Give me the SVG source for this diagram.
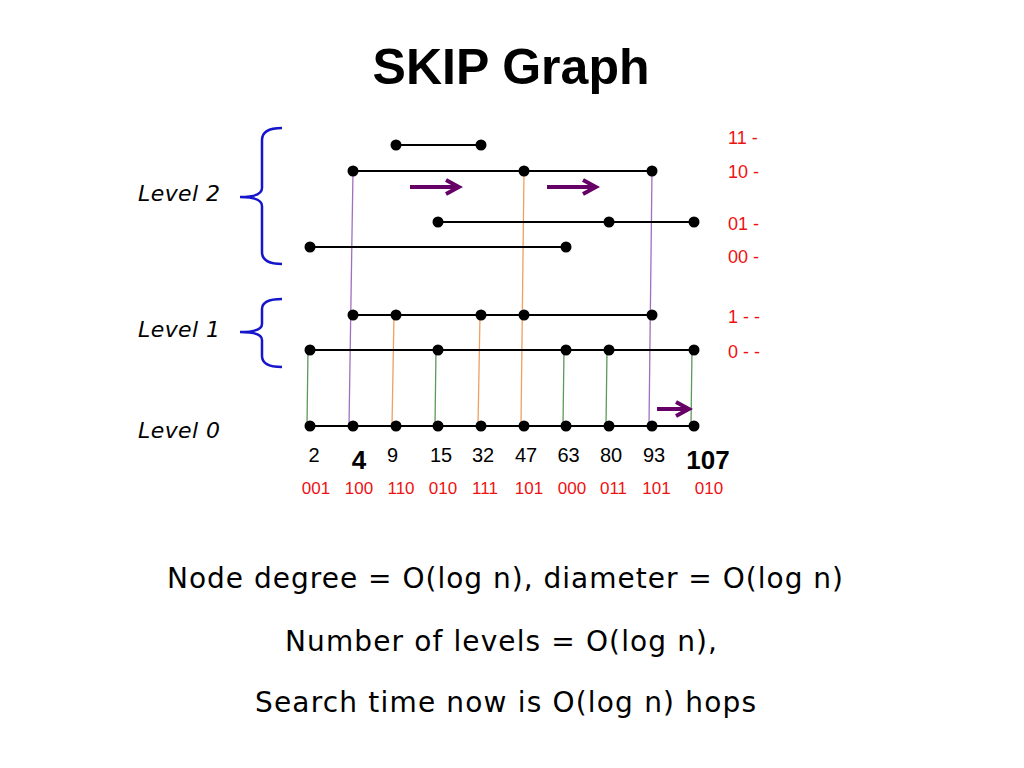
<svg xmlns="http://www.w3.org/2000/svg" width="1024" height="768" viewBox="0 0 1024 768">
<style>
.title{font-family:"Liberation Sans",Arial,sans-serif;font-weight:bold;font-size:50px;fill:#000}
.lvl{font-family:"DejaVu Sans",sans-serif;font-style:italic;font-size:22px;fill:#000}
.code{font-family:"Liberation Sans",Arial,sans-serif;font-size:17px;fill:#ee1111}
.key{font-family:"Liberation Sans",Arial,sans-serif;font-size:20px;fill:#000}
.keyb{font-family:"Liberation Sans",Arial,sans-serif;font-size:26px;font-weight:bold;fill:#000}
.tag{font-family:"Liberation Sans",Arial,sans-serif;font-size:18px;fill:#ee1111}
.body{font-family:"DejaVu Sans",sans-serif;font-size:28px;fill:#000}
.h{stroke:#000;stroke-width:2;fill:none}
.pur{stroke:#a070c0;stroke-width:1.3;fill:none}
.org{stroke:#f0a060;stroke-width:1.3;fill:none}
.grn{stroke:#5a9a5a;stroke-width:1.3;fill:none}
.arr{stroke:#660066;stroke-width:4;fill:none;marker-end:url(#head)}
.brace{stroke:#1515cc;stroke-width:2.5;fill:none}
.n{fill:#000}
</style>
<defs>
<marker id="head" markerUnits="userSpaceOnUse" viewBox="-16 -10 20 20" refX="0" refY="0" markerWidth="20" markerHeight="20" orient="auto">
<path d="M-13,-7 L0,0 L-13,7" stroke="#660066" stroke-width="4" fill="none"/>
</marker>
</defs>
<rect width="1024" height="768" fill="#fff"/>
<text class="title" x="511" y="84" text-anchor="middle">SKIP Graph</text>

<g id="braces">
<path class="brace" d="M282,128 Q262,128 262,140 L262,188 Q262,197 240,197 Q262,197 262,206 L262,252 Q262,264 282,264"/>
<path class="brace" d="M282,299 Q262,299 262,309 L262,324 Q262,332 240,332 Q262,332 262,340 L262,356 Q262,367 282,367"/>
</g>
<g id="level-labels">
<text class="lvl" x="138" y="201" textLength="82">Level 2</text>
<text class="lvl" x="138" y="337" textLength="82">Level 1</text>
<text class="lvl" x="138" y="438" textLength="82">Level 0</text>
</g>

<g id="connectors">
<line class="pur" x1="353" y1="171" x2="349" y2="426"/>
<line class="pur" x1="652" y1="171" x2="649" y2="426"/>
<line class="org" x1="524" y1="171" x2="521" y2="426"/>
<line class="org" x1="394" y1="315" x2="392" y2="426"/>
<line class="org" x1="480" y1="315" x2="478" y2="426"/>
<line class="grn" x1="308" y1="350" x2="307" y2="426"/>
<line class="grn" x1="436" y1="350" x2="435" y2="426"/>
<line class="grn" x1="564" y1="350" x2="563" y2="426"/>
<line class="grn" x1="607" y1="350" x2="606" y2="426"/>
<line class="grn" x1="692" y1="350" x2="691" y2="426"/>
<line class="h" x1="396" y1="145" x2="481" y2="145"/>
<line class="h" x1="353" y1="171" x2="652" y2="171"/>
<line class="h" x1="438" y1="222" x2="694" y2="222"/>
<line class="h" x1="310" y1="247" x2="566" y2="247"/>
<line class="h" x1="353" y1="315" x2="652" y2="315"/>
<line class="h" x1="310" y1="350" x2="694" y2="350"/>
<line class="h" x1="310" y1="426" x2="694" y2="426"/>
<line class="arr" x1="410" y1="187" x2="459" y2="187"/>
<line class="arr" x1="547" y1="187" x2="596" y2="187"/>
<line class="arr" x1="657" y1="409" x2="689" y2="409"/>
</g>

<g id="level2-nodes">
<circle class="n" cx="396" cy="145" r="5.5"/><circle class="n" cx="481" cy="145" r="5.5"/>
<circle class="n" cx="353" cy="171" r="5.5"/><circle class="n" cx="524" cy="171" r="5.5"/><circle class="n" cx="652" cy="171" r="5.5"/>
<circle class="n" cx="438" cy="222" r="5.5"/><circle class="n" cx="609" cy="222" r="5.5"/><circle class="n" cx="694" cy="222" r="5.5"/>
<circle class="n" cx="310" cy="247" r="5.5"/><circle class="n" cx="566" cy="247" r="5.5"/>
</g>
<g id="level1-nodes">
<circle class="n" cx="353" cy="315" r="5.5"/><circle class="n" cx="396" cy="315" r="5.5"/><circle class="n" cx="481" cy="315" r="5.5"/><circle class="n" cx="524" cy="315" r="5.5"/><circle class="n" cx="652" cy="315" r="5.5"/>
<circle class="n" cx="310" cy="350" r="5.5"/><circle class="n" cx="438" cy="350" r="5.5"/><circle class="n" cx="566" cy="350" r="5.5"/><circle class="n" cx="609" cy="350" r="5.5"/><circle class="n" cx="694" cy="350" r="5.5"/>
</g>
<g id="level0-nodes">
<circle class="n" cx="310" cy="426" r="5.5"/><circle class="n" cx="353" cy="426" r="5.5"/><circle class="n" cx="396" cy="426" r="5.5"/><circle class="n" cx="438" cy="426" r="5.5"/><circle class="n" cx="481" cy="426" r="5.5"/>
<circle class="n" cx="524" cy="426" r="5.5"/><circle class="n" cx="566" cy="426" r="5.5"/><circle class="n" cx="609" cy="426" r="5.5"/><circle class="n" cx="652" cy="426" r="5.5"/><circle class="n" cx="694" cy="426" r="5.5"/>
</g>

<g id="tags">
<text class="tag" x="728" y="144">11 -</text>
<text class="tag" x="728" y="178">10 -</text>
<text class="tag" x="728" y="230">01 -</text>
<text class="tag" x="728" y="263">00 -</text>
<text class="tag" x="728" y="323">1 - -</text>
<text class="tag" x="728" y="358">0 - -</text>
</g>

<g id="keys" text-anchor="middle">
<text class="key" x="314" y="462">2</text>
<text class="keyb" x="359" y="469">4</text>
<text class="key" x="392.5" y="462">9</text>
<text class="key" x="441" y="462">15</text>
<text class="key" x="483" y="462">32</text>
<text class="key" x="526" y="462">47</text>
<text class="key" x="568.5" y="462">63</text>
<text class="key" x="611" y="462">80</text>
<text class="key" x="654" y="462">93</text>
<text class="keyb" x="708" y="469">107</text>
</g>
<g id="codes" text-anchor="middle">
<text class="code" x="316" y="494">001</text>
<text class="code" x="359" y="494">100</text>
<text class="code" x="401" y="494">110</text>
<text class="code" x="443" y="494">010</text>
<text class="code" x="485" y="494">111</text>
<text class="code" x="529" y="494">101</text>
<text class="code" x="572" y="494">000</text>
<text class="code" x="613.5" y="494">011</text>
<text class="code" x="656.5" y="494">101</text>
<text class="code" x="709" y="494">010</text>
</g>

<g id="notes">
<text class="body" x="167" y="588" textLength="676">Node degree = O(log n), diameter = O(log n)</text>
<text class="body" x="285" y="651" textLength="432">Number of levels = O(log n),</text>
<text class="body" x="255" y="712" textLength="501">Search time now is O(log n) hops</text>
</g>
</svg>
